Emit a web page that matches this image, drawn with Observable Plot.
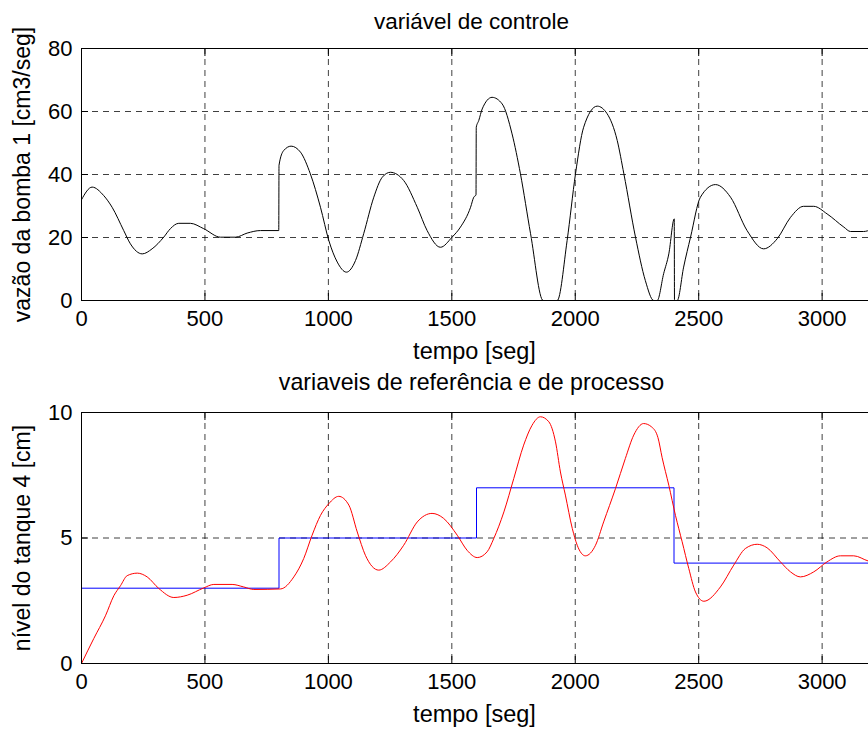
<!DOCTYPE html>
<html>
<head>
<meta charset="utf-8">
<script src="https://cdn.jsdelivr.net/npm/d3@7"></script>
<script src="https://cdn.jsdelivr.net/npm/@observablehq/plot@0.6"></script>
<style>
  html, body { margin: 0; padding: 0; background: #fff; overflow: hidden; }
  #chart { width: 868px; }
  #chart svg { display: block; }
</style>
</head>
<body>
<div id="chart"></div>
<script>
// ---- top panel: control variable (pump 1 flow) ----
const tTop = [0, 43, 90, 124, 171, 198, 246, 286, 333, 360, 394, 441, 495, 563, 624, 671, 725, 799, 800, 819, 849, 887, 927, 968, 1002, 1036, 1073, 1110, 1143, 1184, 1218, 1251, 1305, 1360, 1400, 1454, 1501, 1535, 1576, 1589, 1598, 1599, 1609, 1623, 1663, 1704, 1744, 1778, 1819, 1870, 1927, 1967, 2001, 2034, 2089, 2129, 2170, 2197, 2244, 2284, 2318, 2332, 2358, 2379, 2401, 2402, 2413, 2439, 2467, 2507, 2568, 2629, 2696, 2763, 2818, 2872, 2925, 2966, 3020, 3088, 3115, 3168, 3200];
const uTop = [32, 36, 33.3, 29.6, 22.2, 18, 14.8, 16.4, 20.1, 22.8, 24.5, 24.5, 22.8, 20.1, 20.1, 21.4, 22.2, 22.2, 42.9, 47.6, 49, 47.1, 40.2, 29.6, 19, 12.2, 9, 12.7, 21.2, 32.8, 39.1, 40.7, 38.1, 29.6, 22.2, 16.9, 20.1, 23.3, 29.6, 32.8, 33.5, 55, 57.1, 60.8, 64.5, 62.4, 52.9, 40.2, 21.2, 0, 0, 19, 40.2, 55, 61.7, 59.3, 50.8, 40.2, 20.1, 6.3, 0, 0, 8.5, 14.8, 25.9, 0, 0, 10.6, 20.1, 32.8, 36.8, 32.8, 22.2, 16.4, 19.6, 26.4, 29.9, 29.9, 27.5, 23.3, 21.9, 21.9, 22.6];

// ---- bottom panel: reference and process variables (tank 4 level) ----
const tLevel = [0, 50, 97, 131, 158, 185, 226, 266, 313, 374, 428, 495, 536, 610, 657, 698, 806, 860, 900, 934, 968, 1002, 1042, 1083, 1117, 1150, 1204, 1252, 1305, 1360, 1420, 1467, 1522, 1562, 1603, 1643, 1670, 1711, 1751, 1791, 1825, 1859, 1893, 1920, 1940, 1960, 1988, 2008, 2041, 2082, 2115, 2163, 2203, 2237, 2277, 2310, 2335, 2352, 2379, 2406, 2433, 2460, 2487, 2521, 2588, 2642, 2689, 2737, 2777, 2831, 2872, 2912, 2966, 3020, 3074, 3128, 3188, 3200];
const level = [0, 1.0, 1.9, 2.7, 3.1, 3.5, 3.6, 3.45, 2.99, 2.63, 2.72, 3.01, 3.15, 3.15, 3.05, 2.95, 2.97, 3.45, 4.18, 5.11, 5.9, 6.37, 6.66, 6.31, 5.24, 4.31, 3.72, 4.05, 4.71, 5.64, 5.98, 5.78, 5.11, 4.51, 4.22, 4.45, 4.98, 6.04, 7.37, 8.7, 9.49, 9.83, 9.63, 8.83, 7.63, 6.71, 5.38, 4.71, 4.29, 4.71, 5.64, 6.97, 8.17, 9.1, 9.56, 9.42, 9.0, 8.2, 7.1, 5.9, 4.85, 3.78, 2.85, 2.48, 3.05, 3.92, 4.58, 4.75, 4.61, 4.05, 3.65, 3.45, 3.65, 4.05, 4.29, 4.29, 4.08, 4.05];
const tRef = [0, 800, 1600, 2400, 3200];
const ref = [3, 5, 7, 4, 4];

// ---- axes / text ----
const xTicks = [0, 500, 1000, 1500, 2000, 2500, 3000];
const yTicksTop = [0, 20, 40, 60, 80];
const yTicksBottom = [0, 5, 10];
const titleTop = "variável de controle";
const titleBottom = "variaveis de referência e de processo";
const xLabel = "tempo [seg]";
const yLabelTop = "vazão da bomba 1 [cm3/seg]";
const yLabelBottom = "nível do tanque 4 [cm]";

const topData = tTop.map((t, i) => ({t, u: uTop[i]}));
const levelData = tLevel.map((t, i) => ({t, v: level[i]}));
const refData = tRef.map((t, i) => ({t, v: ref[i]}));

const FONT = "'Liberation Sans', Arial, Helvetica, sans-serif";
const gridStyle = {stroke: "#000", strokeOpacity: 0.75, strokeDasharray: "6,5", strokeWidth: 1};
const fmt = d => String(d);

function panel({height, marginBottom, yDomain, yTicks, title, titleDy, titleSize, yLabel, lines}) {
  const inner = xTicks.filter(d => d > 0);
  const innerY = yTicks.filter(d => d > yDomain[0] && d < yDomain[1]);
  return Plot.plot({
    width: 868,
    height,
    marginTop: 48,
    marginBottom,
    marginLeft: 81,
    marginRight: -3,
    style: {fontFamily: FONT, fontSize: "22px", color: "#000", background: "#fff", overflow: "hidden"},
    x: {domain: [0, 3200]},
    y: {domain: yDomain},
    marks: [
      Plot.gridX(inner, gridStyle),
      Plot.gridY(innerY, gridStyle),
      Plot.axisX({ticks: xTicks, tickSize: 0, tickPadding: 10, fontSize: 22, tickFormat: fmt, label: null}),
      Plot.axisX({ticks: inner, anchor: "bottom", tickSize: -7, tickFormat: () => "", label: null}),
      Plot.axisX({ticks: inner, anchor: "top", tickSize: -7, tickFormat: () => "", label: null}),
      Plot.axisY({ticks: yTicks, tickSize: 0, tickPadding: 9, fontSize: 22, tickFormat: fmt, label: null}),
      Plot.axisY({ticks: innerY, anchor: "left", tickSize: -7, tickFormat: () => "", label: null}),
      ...lines,
      Plot.frame({stroke: "#000", strokeWidth: 1}),
      Plot.text([title], {text: d => d, frameAnchor: "top", dx: -5, dy: titleDy, lineAnchor: "middle", fontSize: titleSize}),
      Plot.text([xLabel], {text: d => d, frameAnchor: "bottom", dx: -2, dy: 51, lineAnchor: "middle", fontSize: 23.5}),
      Plot.text([yLabel], {text: d => d, frameAnchor: "left", textAnchor: "middle", dx: -59, rotate: -90, lineAnchor: "middle", fontSize: 23})
    ]
  });
}

const topPanel = panel({
  height: 364, marginBottom: 64, yDomain: [0, 80], yTicks: yTicksTop,
  title: titleTop, titleDy: -27, titleSize: 22.5, yLabel: yLabelTop,
  lines: [
    Plot.line(topData, {x: "t", y: "u", stroke: "#000", strokeWidth: 1, curve: "monotone-x", clip: true})
  ]
});

const bottomPanel = panel({
  height: 365, marginBottom: 66, yDomain: [0, 10], yTicks: yTicksBottom,
  title: titleBottom, titleDy: -30, titleSize: 23.2, yLabel: yLabelBottom,
  lines: [
    Plot.line(refData, {x: "t", y: "v", stroke: "#0000ff", strokeWidth: 1, curve: "step-after", clip: true}),
    Plot.line(levelData, {x: "t", y: "v", stroke: "#ff0000", strokeWidth: 1, curve: "monotone-x", clip: true})
  ]
});

const el = document.getElementById("chart");
el.appendChild(topPanel);
el.appendChild(bottomPanel);
</script>
</body>
</html>
